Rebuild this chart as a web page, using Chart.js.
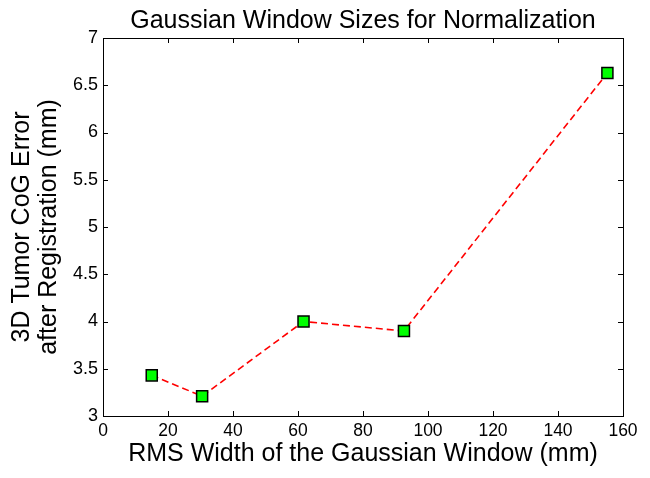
<!DOCTYPE html>
<html>
<head>
<meta charset="utf-8">
<script src="https://cdn.jsdelivr.net/npm/chart.js@4.4.0/dist/chart.umd.min.js"></script>
<style>
html,body{margin:0;padding:0;background:#fff;}
#wrap{width:650px;height:478px;}
</style>
</head>
<body>
<div id="wrap"><canvas id="c" width="650" height="478"></canvas></div>
<script>
const xValues = [15.0, 30.5, 61.7, 92.6, 155.2];
const yValues = [3.43, 3.21, 4.00, 3.90, 6.63];
const xTicks = [0, 20, 40, 60, 80, 100, 120, 140, 160];
const yTicks = [3, 3.5, 4, 4.5, 5, 5.5, 6, 6.5, 7];
const titleText = 'Gaussian Window Sizes for Normalization';
const xTitle = 'RMS Width of the Gaussian Window (mm)';
const yTitle = ['3D Tumor CoG Error', 'after Registration (mm)'];

const FONT = "'Liberation Sans', Arial, sans-serif";

const boxPlugin = {
  id: 'box',
  afterDatasetsDraw(chart) {
    const {ctx, chartArea: a, scales} = chart;
    ctx.save();
    ctx.strokeStyle = '#000';
    ctx.lineWidth = 1;
    ctx.strokeRect(Math.round(a.left) + 0.5, Math.round(a.top) + 0.5, Math.round(a.right - a.left), Math.round(a.bottom - a.top));
    const L = 5;
    ctx.beginPath();
    scales.x.ticks.forEach((t, i) => {
      const px = Math.round(scales.x.getPixelForTick(i)) + 0.5;
      ctx.moveTo(px, a.bottom); ctx.lineTo(px, a.bottom - L);
      ctx.moveTo(px, a.top); ctx.lineTo(px, a.top + L);
    });
    scales.y.ticks.forEach((t, i) => {
      const py = Math.round(scales.y.getPixelForTick(i)) + 0.5;
      ctx.moveTo(a.left, py); ctx.lineTo(a.left + L, py);
      ctx.moveTo(a.right, py); ctx.lineTo(a.right - L, py);
    });
    ctx.stroke();
    ctx.restore();
  }
};

new Chart(document.getElementById('c'), {
  type: 'scatter',
  data: {
    datasets: [{
      data: xValues.map((x, i) => ({x: x, y: yValues[i]})),
      showLine: true,
      borderColor: '#ff0000',
      borderWidth: 1.6,
      borderDash: [7, 4],
      pointStyle: 'rect',
      pointRadius: 7.8,
      pointHoverRadius: 7.8,
      pointBackgroundColor: '#00ff00',
      pointBorderColor: '#000000',
      pointBorderWidth: 1.5,
      tension: 0
    }]
  },
  options: {
    responsive: false,
    animation: false,
    devicePixelRatio: 1,
    layout: {padding: {left: 0, right: 27, top: 0, bottom: 0}},
    plugins: {
      legend: {display: false},
      tooltip: {enabled: false},
      title: {display: false}
    },
    scales: {
      x: {
        type: 'linear',
        min: 0, max: 160,
        afterBuildTicks: s => { s.ticks = xTicks.map(v => ({value: v})); },
        grid: {display: false, drawTicks: false},
        border: {display: false},
        ticks: {color: '#000', font: {family: FONT, size: 17.5}, padding: 5, maxRotation: 0, callback: v => String(v)},
        title: {display: true, text: xTitle, color: '#000', font: {family: FONT, size: 25, lineHeight: 1.2}, padding: {top: 0, bottom: 9}},
        afterFit: s => { s.height = 62; }
      },
      x2: {
        type: 'linear',
        position: 'top',
        min: 0, max: 160,
        grid: {display: false, drawTicks: false},
        border: {display: false},
        ticks: {display: false},
        title: {display: true, text: titleText, color: '#000', font: {family: FONT, size: 25, lineHeight: 1.2}, padding: {top: 6, bottom: 0}},
        afterFit: s => { s.height = 38; }
      },
      y: {
        type: 'linear',
        min: 3, max: 7,
        afterBuildTicks: s => { s.ticks = yTicks.map(v => ({value: v})); },
        grid: {display: false, drawTicks: false},
        border: {display: false},
        ticks: {color: '#000', font: {family: FONT, size: 18}, padding: 5, callback: v => String(v)},
        title: {display: true, text: yTitle, color: '#000', font: {family: FONT, size: 25, lineHeight: 1.08}, padding: {top: 9, bottom: 0}},
        afterFit: s => { s.width = 103; }
      }
    }
  },
  plugins: [boxPlugin]
});
</script>
</body>
</html>
